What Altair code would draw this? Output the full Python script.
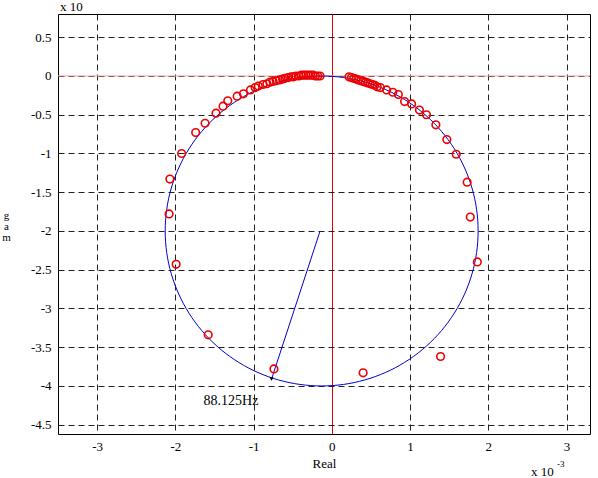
import altair as alt
import pandas as pd

# Pole positions (real part, imaginary part), units of 1e-3
re_vals = [
    -2.07, -2.08, -1.99, -1.58, -0.74, 0.40, 1.39, 1.86, 1.77, 1.73,
    1.59, 1.47, 1.33, 1.21, 1.12, 1.02, 0.93, 0.85, 0.78, 0.70,
    -1.92, -1.74, -1.62, -1.48, -1.39, -1.33, -1.21, -1.13, -1.04, -0.98, -0.94, -0.88,
    -0.83, -0.79, -0.75, -0.71, -0.67, -0.63, -0.60, -0.56, -0.52, -0.49, -0.46,
    -0.42, -0.39, -0.36, -0.33, -0.30, -0.27, -0.24, -0.21, -0.18, -0.15,
    0.22, 0.25, 0.28, 0.31, 0.34, 0.37, 0.40, 0.43, 0.46, 0.49, 0.52, 0.55, 0.58, 0.62,
]
im_vals = [
    -1.33, -1.78, -2.43, -3.34, -3.78, -3.83, -3.62, -2.40, -1.82, -1.37,
    -1.01, -0.82, -0.63, -0.50, -0.44, -0.36, -0.33, -0.24, -0.21, -0.18,
    -1.00, -0.73, -0.61, -0.48, -0.39, -0.32, -0.26, -0.23, -0.18, -0.15, -0.13, -0.11,
    -0.10, -0.08, -0.07, -0.06, -0.05, -0.04, -0.03, -0.02, -0.01, -0.01, 0.00,
    0.00, 0.01, 0.01, 0.01, 0.01, 0.01, 0.01, 0.00, 0.00, 0.00,
    -0.01, -0.02, -0.03, -0.04, -0.05, -0.06, -0.07, -0.08, -0.09, -0.10, -0.11, -0.12, -0.14, -0.15,
]

circle_center_re = -0.13
circle_center_im = -2.0
circle_radius = 2.0

arrow_re = [-0.15, -0.77]
arrow_im = [-2.0, -3.91]

label_text = ["88.125Hz"]
label_re = [-1.64]
label_im = [-4.2]

x_ticks = [-3, -2, -1, 0, 1, 2, 3]
y_ticks = [0.5, 0, -0.5, -1, -1.5, -2, -2.5, -3, -3.5, -4, -4.5]

FONT = "Liberation Serif"

xs = alt.Scale(domain=[-3.5, 3.3], nice=False, zero=False)
ys = alt.Scale(domain=[-4.62, 0.8], nice=False, zero=False)

x_axis = alt.Axis(values=x_ticks, title="Real", grid=True,
                  gridDash={"condition": {"test": "datum.value === 0", "value": []}, "value": [6, 4]},
                  gridColor={"condition": {"test": "datum.value === 0", "value": "#e00000"}, "value": "#222"},
                  gridWidth=1, ticks=False, domain=False,
                  labelFont=FONT, labelFontSize=13, labelColor="black",
                  labelPadding=6, labelExpr="'' + datum.value",
                  titleFont=FONT, titleFontSize=13, titleFontWeight="normal",
                  titleColor="black", titlePadding=4)
y_axis = alt.Axis(values=y_ticks, title=["g", "a", "m"], grid=True, gridDash=[6, 4],
                  gridColor="#222", gridWidth=1, ticks=False, domain=False,
                  labelFont=FONT, labelFontSize=13, labelColor="black",
                  labelPadding=7, labelExpr="'' + datum.value",
                  titleFont=FONT, titleFontSize=11, titleFontWeight="normal",
                  titleColor="black", titleAngle=0, titleX=-52, titleY=195,
                  titleAlign="center", titleBaseline="top", titleLineHeight=11)

pts = pd.DataFrame({"re": re_vals, "im": im_vals})
arrow = pd.DataFrame({"re": arrow_re, "im": arrow_im, "o": [0, 1]})
lab = pd.DataFrame({"re": label_re, "im": label_im, "t": label_text})
zero_df = pd.DataFrame({"v": [0]})

hline = alt.Chart(zero_df).mark_rule(color="#f2a0a0", strokeWidth=1).encode(
    y=alt.Y("v:Q", scale=ys, axis=y_axis)
)

circle = alt.Chart(alt.sequence(0, 362, 2, as_="deg")).transform_calculate(
    re=f"{circle_center_re} + {circle_radius} * cos(datum.deg * PI / 180)",
    im=f"{circle_center_im} + {circle_radius} * sin(datum.deg * PI / 180)",
).mark_line(color="#0000cc", strokeWidth=1).encode(
    x=alt.X("re:Q", scale=xs, axis=x_axis), y=alt.Y("im:Q", scale=ys), order="deg:Q"
)

arrow_line = alt.Chart(arrow).mark_line(color="#0000cc", strokeWidth=1).encode(
    x=alt.X("re:Q", scale=xs), y=alt.Y("im:Q", scale=ys), order="o:Q"
)
arrow_head = alt.Chart(arrow.iloc[[1]]).mark_point(
    shape="triangle-down", filled=True, color="black", size=18, opacity=1
).encode(x=alt.X("re:Q", scale=xs), y=alt.Y("im:Q", scale=ys))

points = alt.Chart(pts).mark_point(
    shape="circle", filled=False, color="#ee0000", size=58, strokeWidth=1.6, opacity=1
).encode(x=alt.X("re:Q", scale=xs), y=alt.Y("im:Q", scale=ys))

text = alt.Chart(lab).mark_text(
    font=FONT, fontSize=14, align="left", baseline="middle", color="black"
).encode(x=alt.X("re:Q", scale=xs), y=alt.Y("im:Q", scale=ys), text="t:N")

top_exp = alt.Chart(zero_df).mark_text(
    font=FONT, fontSize=13, align="left", baseline="alphabetic", color="black"
).encode(x=alt.value(2), y=alt.value(-3), text=alt.value("x 10"))
bot_exp = alt.Chart(zero_df).mark_text(
    font=FONT, fontSize=13, align="left", baseline="alphabetic", color="black"
).encode(x=alt.value(473), y=alt.value(462), text=alt.value("x 10"))
bot_sup = alt.Chart(zero_df).mark_text(
    font=FONT, fontSize=9, align="left", baseline="alphabetic", color="black"
).encode(x=alt.value(499), y=alt.value(453), text=alt.value("-3"))

chart = alt.layer(
    hline, circle, arrow_line, arrow_head, points, text,
    top_exp, bot_exp, bot_sup
).properties(
    width=532, height=420,
    autosize=alt.AutoSizeParams(type="none"),
    padding={"left": 58, "top": 14, "right": 8, "bottom": 44},
    background="white",
).configure_view(stroke="black", strokeWidth=1)

chart.save("out.html", embed_options={"renderer": "svg", "actions": False})
